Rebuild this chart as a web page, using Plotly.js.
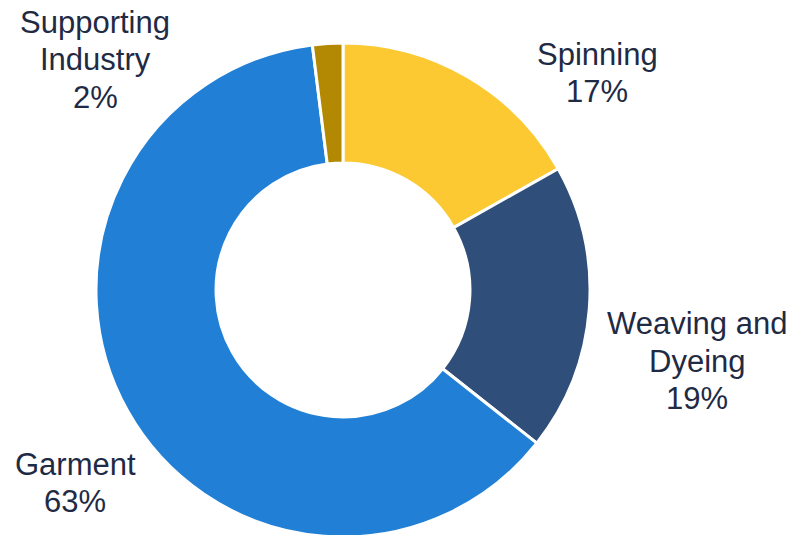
<!DOCTYPE html>
<html>
<head>
<meta charset="utf-8">
<script src="https://cdn.plot.ly/plotly-3.0.1.min.js"></script>
<style>
html,body{margin:0;padding:0;overflow:hidden;background:#fff;}
#chart{width:794px;height:580px;}
</style>
</head>
<body>
<div id="chart"></div>
<script>
const labels = ["Spinning", "Weaving and<br>Dyeing", "Garment", "Supporting<br>Industry"];
const values = [17, 19, 63, 2];
const colors = ["#FCC932", "#2F4E79", "#2180D6", "#B38803"];
// label block centres in pixels (x, y from top)
const labelPos = [[597, 73], [697, 361], [75, 483], [95, 60]];

const W = 794, H = 580, LINE = 37.5;
const annotations = [];
labels.forEach((l, i) => {
  const lines = (l + "<br>" + values[i] + "%").split("<br>");
  const n = lines.length;
  lines.forEach((t, k) => {
    const py = labelPos[i][1] + (k - (n - 1) / 2) * LINE;
    annotations.push({
      text: t,
      xref: "paper", yref: "paper",
      x: labelPos[i][0] / W, y: (H - py) / H,
      xanchor: "center", yanchor: "middle",
      align: "center", showarrow: false,
      font: {family: "Liberation Sans, Arial, sans-serif", size: 31, color: "#1F2A44"}
    });
  });
});

Plotly.newPlot("chart", [{
  type: "pie",
  labels: labels,
  values: values,
  hole: 0.514,
  sort: false,
  direction: "clockwise",
  rotation: 0,
  textinfo: "none",
  marker: {colors: colors, line: {color: "#ffffff", width: 3}},
  domain: {x: [96/W, 590/W], y: [(H-537)/H, (H-43)/H]},
  showlegend: false,
  hoverinfo: "label+value"
}], {
  width: W, height: H,
  margin: {l: 0, r: 0, t: 0, b: 0},
  paper_bgcolor: "#ffffff",
  annotations: annotations,
  showlegend: false
}, {staticPlot: true});
</script>
</body>
</html>
